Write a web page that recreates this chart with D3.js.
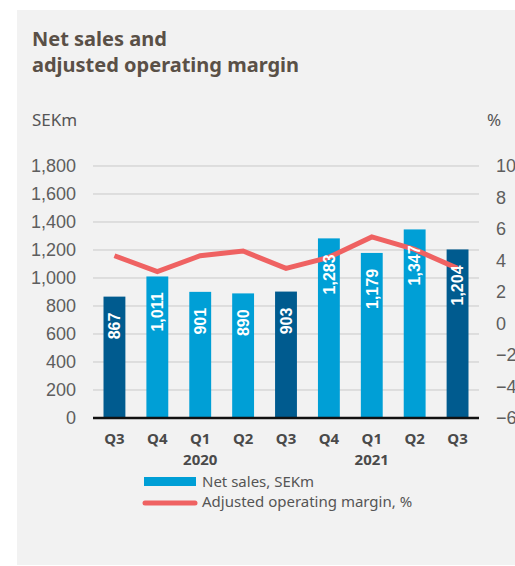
<!DOCTYPE html>
<html>
<head>
<meta charset="utf-8">
<script src="https://cdn.jsdelivr.net/npm/d3@7"></script>
<style>
  html, body { margin: 0; padding: 0; background: #fff; }
  svg { display: block; }
</style>
</head>
<body>
<div id="chart"></div>
<script>
// DATA
const quarters = ['Q3', 'Q4', 'Q1', 'Q2', 'Q3', 'Q4', 'Q1', 'Q2', 'Q3'];
const years = ['', '', '2020', '', '', '', '2021', '', ''];
const netSales = [867, 1011, 901, 890, 903, 1283, 1179, 1347, 1204];
const highlight = [true, false, false, false, true, false, false, false, true];
const margin = [4.3, 3.3, 4.3, 4.6, 3.5, 4.2, 5.5, 4.7, 3.5];
const leftTicks = [0, 200, 400, 600, 800, 1000, 1200, 1400, 1600, 1800];
const rightTicks = [-6, -4, -2, 0, 2, 4, 6, 8, 10];

const W = 515, H = 566;
const plot = { left: 93, right: 479, top: 166, bottom: 418 };
const darkBlue = '#005b8f', lightBlue = '#009fd6', red = '#ef6262';
const textFont = '"Noto Sans", sans-serif';
const numFont = '"Liberation Sans", Arial, sans-serif';

const svg = d3.select('#chart').append('svg')
    .attr('width', W).attr('height', H);

// PANEL
svg.append('rect')
    .attr('x', 17).attr('y', 10).attr('width', W - 17).attr('height', 555)
    .attr('fill', '#f2f2f2');

// TITLE
const title = svg.append('text')
    .attr('x', 32).attr('y', 46)
    .attr('font-family', textFont).attr('font-weight', 700).attr('font-size', 20)
    .attr('fill', '#5a5047');
title.append('tspan').attr('x', 32).attr('dy', 0).text('Net sales and');
title.append('tspan').attr('x', 32).attr('dy', 26).text('adjusted operating margin');

svg.append('text').attr('x', 32).attr('y', 126)
    .attr('font-family', textFont).attr('font-size', 17).attr('fill', '#555')
    .text('SEKm');
svg.append('text').attr('x', 487).attr('y', 126)
    .attr('font-family', textFont).attr('font-size', 17).attr('fill', '#555')
    .text('%');

// SCALES
const x = d3.scaleBand()
    .domain(d3.range(quarters.length))
    .range([plot.left, plot.right])
    .paddingInner(0.49).paddingOuter(0.245);

const y = d3.scaleLinear().domain([0, 1800]).range([plot.bottom, plot.top]);
const y2 = d3.scaleLinear().domain([-6, 10]).range([plot.bottom, plot.top]);

// GRID
svg.append('g')
    .selectAll('line')
    .data(leftTicks.filter(d => d > 0))
    .join('line')
    .attr('x1', plot.left).attr('x2', plot.right)
    .attr('y1', d => y(d)).attr('y2', d => y(d))
    .attr('stroke', '#c9c9c9').attr('stroke-width', 1);

// LEFT AXIS
const axL = svg.append('g')
    .attr('transform', `translate(${plot.left - 17},0)`)
    .call(d3.axisLeft(y).tickValues(leftTicks).tickSize(0).tickPadding(0)
        .tickFormat(d3.format(',')));
axL.select('.domain').remove();
axL.selectAll('text')
    .attr('font-family', numFont).attr('font-size', 18).attr('fill', '#5e5e5e');

// RIGHT AXIS (labels run off the right edge, as in the source)
const axR = svg.append('g')
    .attr('transform', `translate(${plot.right + 17},0)`)
    .call(d3.axisRight(y2).tickValues(rightTicks).tickSize(0).tickPadding(0));
axR.select('.domain').remove();
axR.selectAll('text')
    .attr('font-family', numFont).attr('font-size', 18).attr('fill', '#5e5e5e');

// BARS
svg.append('g')
    .selectAll('rect')
    .data(netSales)
    .join('rect')
    .attr('x', (d, i) => x(i))
    .attr('y', d => y(d))
    .attr('width', x.bandwidth())
    .attr('height', d => y(0) - y(d))
    .attr('fill', (d, i) => highlight[i] ? darkBlue : lightBlue);

// BASELINE
svg.append('line')
    .attr('x1', plot.left).attr('x2', plot.right)
    .attr('y1', y(0)).attr('y2', y(0))
    .attr('stroke', '#111').attr('stroke-width', 2.5);

// LINE
const line = d3.line()
    .x((d, i) => x(i) + x.bandwidth() / 2)
    .y(d => y2(d));
svg.append('path')
    .datum(margin)
    .attr('d', line)
    .attr('fill', 'none')
    .attr('stroke', red).attr('stroke-width', 5)
    .attr('stroke-linejoin', 'miter');

// BAR LABELS
svg.append('g')
    .selectAll('text')
    .data(netSales)
    .join('text')
    .attr('transform', (d, i) => `translate(${x(i) + x.bandwidth() / 2},${y(d) + 16}) rotate(-90)`)
    .attr('text-anchor', 'end')
    .attr('dy', '0.36em')
    .attr('font-family', numFont).attr('font-weight', 700).attr('font-size', 16)
    .attr('fill', '#fff')
    .text(d => d3.format(',')(d));

// X LABELS
svg.append('g')
    .selectAll('text')
    .data(quarters)
    .join('text')
    .attr('x', (d, i) => x(i) + x.bandwidth() / 2)
    .attr('y', 444)
    .attr('text-anchor', 'middle')
    .attr('font-family', textFont).attr('font-weight', 700).attr('font-size', 15)
    .attr('fill', '#4a4a4a')
    .text(d => d);
svg.append('g')
    .selectAll('text')
    .data(years)
    .join('text')
    .attr('x', (d, i) => x(i) + x.bandwidth() / 2)
    .attr('y', 465)
    .attr('text-anchor', 'middle')
    .attr('font-family', textFont).attr('font-weight', 700).attr('font-size', 15)
    .attr('fill', '#4a4a4a')
    .text(d => d);

// LEGEND
const lg = svg.append('g');
lg.append('rect').attr('x', 144).attr('y', 477).attr('width', 52).attr('height', 9)
    .attr('fill', lightBlue);
lg.append('line').attr('x1', 145).attr('x2', 195).attr('y1', 503).attr('y2', 503)
    .attr('stroke', red).attr('stroke-width', 5).attr('stroke-linecap', 'round');
lg.append('text').attr('x', 202).attr('y', 482).attr('dy', '0.35em')
    .attr('font-family', textFont).attr('font-size', 15).attr('fill', '#555')
    .text('Net sales, SEKm');
lg.append('text').attr('x', 202).attr('y', 502).attr('dy', '0.35em')
    .attr('font-family', textFont).attr('font-size', 15).attr('fill', '#555')
    .text('Adjusted operating margin, %');
</script>
</body>
</html>
